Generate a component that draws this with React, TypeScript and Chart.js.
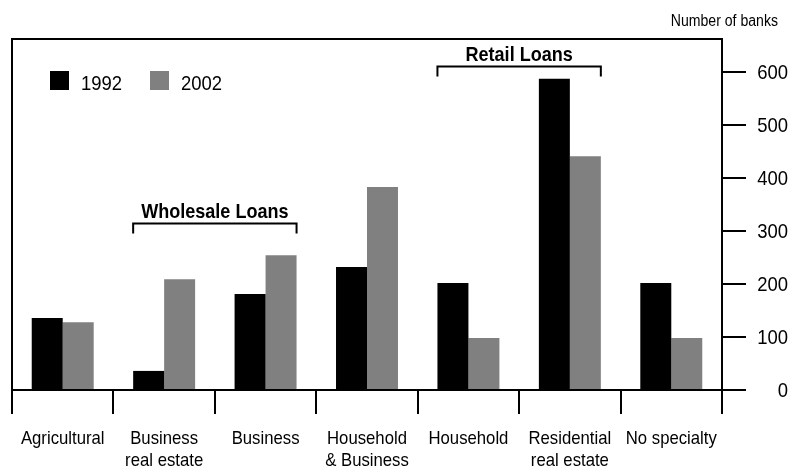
import React, { useEffect, useRef } from "react";
import { Chart, registerables } from "chart.js";

Chart.register(...registerables);

const categories: string[][] = [
  ["Agricultural"],
  ["Business", "real estate"],
  ["Business"],
  ["Household", "& Business"],
  ["Household"],
  ["Residential", "real estate"],
  ["No specialty"],
];
const seriesLabels = ["1992", "2002"];
const values1992 = [136, 36, 181, 232, 202, 587, 202];
const values2002 = [128, 209, 254, 383, 98, 441, 98];
const yTickValues = [0, 100, 200, 300, 400, 500, 600];
const axisTitle = "Number of banks";
const groupLabels = ["Wholesale Loans", "Retail Loans"];
const groupFrom = [1, 4];
const groupTo = [2, 5];
const groupLevel = [314, 610];

const FONT = "'Liberation Sans', Arial, 'DejaVu Sans', sans-serif";
const SX = 0.88;
const colors = ["#000000", "#808080"];
const CAT_PCT = 0.611;

function narrowText(
  ctx: CanvasRenderingContext2D,
  text: string,
  x: number,
  y: number,
  align: CanvasTextAlign,
  font: string,
  baseline: CanvasTextBaseline = "alphabetic"
) {
  ctx.save();
  ctx.font = font;
  ctx.textAlign = align;
  ctx.textBaseline = baseline;
  ctx.translate(x, y);
  ctx.scale(SX, 1);
  ctx.fillText(text, 0, 0);
  ctx.restore();
}

const overlay = {
  id: "overlay",
  afterDraw(chart: any) {
    const { ctx, chartArea } = chart;
    const x = chart.scales.x;
    const y = chart.scales.y;
    ctx.save();
    ctx.strokeStyle = "#000";
    ctx.fillStyle = "#000";
    ctx.lineWidth = 2;
    // frame top/left
    ctx.beginPath();
    ctx.moveTo(chartArea.left, chartArea.bottom);
    ctx.lineTo(chartArea.left, chartArea.top);
    ctx.lineTo(chartArea.right, chartArea.top);
    ctx.stroke();

    // y tick labels
    yTickValues.forEach((v) => {
      narrowText(ctx, String(v), 788, y.getPixelForValue(v) + 1, "right", `21px ${FONT}`, "middle");
    });

    // x tick labels
    categories.forEach((lines, i) => {
      const cx = x.getPixelForValue(i);
      lines.forEach((ln, j) => {
        narrowText(ctx, ln, cx, 444 + j * 22, "center", `19px ${FONT}`);
      });
    });

    // legend
    const legX = [50, 150];
    seriesLabels.forEach((lab, i) => {
      ctx.fillStyle = colors[i];
      ctx.fillRect(legX[i], 71, 19, 19);
      ctx.fillStyle = "#000";
      narrowText(ctx, lab, legX[i] + 31, 90, "left", `21px ${FONT}`);
    });

    // axis title
    narrowText(ctx, axisTitle, 778, 26, "right", `16px ${FONT}`);

    // group brackets
    const catW = (chartArea.right - chartArea.left) / categories.length;
    const half = (catW * CAT_PCT) / 2;
    groupLabels.forEach((lab, i) => {
      const l = x.getPixelForValue(groupFrom[i]) - half;
      const r = x.getPixelForValue(groupTo[i]) + half;
      const yy = y.getPixelForValue(groupLevel[i]);
      ctx.beginPath();
      ctx.moveTo(l, yy + 10);
      ctx.lineTo(l, yy);
      ctx.lineTo(r, yy);
      ctx.lineTo(r, yy + 10);
      ctx.stroke();
      narrowText(ctx, lab, (l + r) / 2, yy - 6, "center", `bold 20.5px ${FONT}`);
    });
    ctx.restore();
  },
};

export default function App() {
  const ref = useRef<HTMLCanvasElement | null>(null);
  useEffect(() => {
    if (!ref.current) return;
    const chart = new Chart(ref.current, {
      type: "bar",
      data: {
        labels: categories,
        datasets: [
          { label: seriesLabels[0], data: values1992, backgroundColor: colors[0] },
          { label: seriesLabels[1], data: values2002, backgroundColor: colors[1] },
        ],
      },
      options: {
        animation: false,
        responsive: false,
        devicePixelRatio: 1,
        layout: { padding: { left: 12, top: 39, right: 0, bottom: 0 } },
        datasets: { bar: { categoryPercentage: CAT_PCT, barPercentage: 1 } },
        plugins: { legend: { display: false }, tooltip: { enabled: false } },
        scales: {
          x: {
            grid: {
              offset: true,
              drawOnChartArea: false,
              drawTicks: true,
              tickLength: 24,
              color: "#000",
              lineWidth: 2,
            },
            border: { display: true, color: "#000", width: 2 },
            ticks: { display: false, autoSkip: false, maxRotation: 0 },
            afterFit(scale: any) {
              scale.height = 80;
            },
          },
          y: {
            position: "right",
            min: 0,
            max: 662,
            afterBuildTicks(scale: any) {
              scale.ticks = yTickValues.map((v) => ({ value: v }));
            },
            grid: {
              drawOnChartArea: false,
              drawTicks: true,
              tickLength: 24,
              color: "#000",
              lineWidth: 2,
            },
            border: { display: true, color: "#000", width: 2 },
            ticks: { display: false },
            afterFit(scale: any) {
              scale.width = 70;
            },
          },
        },
      },
      plugins: [overlay],
    } as any);
    return () => chart.destroy();
  }, []);
  return (
    <div style={{ position: "fixed", left: 0, top: 0, width: 792, height: 470, background: "#fff" }}>
      <canvas ref={ref} width={792} height={470} style={{ width: 792, height: 470, display: "block" }} />
    </div>
  );
}
